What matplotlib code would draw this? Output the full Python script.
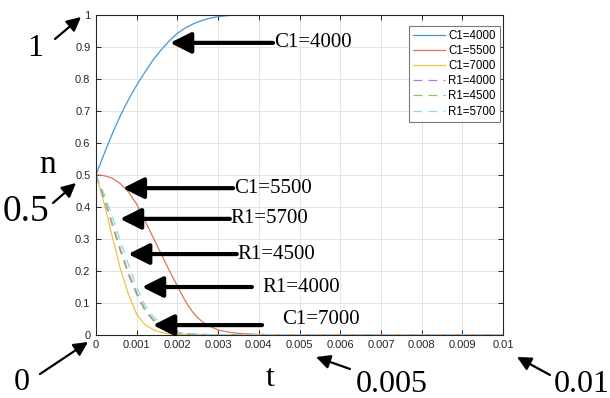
import matplotlib
matplotlib.use("Agg")
import matplotlib.pyplot as plt
import matplotlib.patches as mpatches

# ---------------- data ----------------
t_c4000 = [0, 0.0002, 0.0004, 0.0006, 0.0008, 0.001, 0.0012, 0.0014, 0.0016, 0.0018,
           0.002, 0.0022, 0.0024, 0.0026, 0.0028, 0.003, 0.0033, 0.0036, 0.004, 0.01]
n_c4000 = [0.5, 0.565, 0.628, 0.685, 0.735, 0.78, 0.82, 0.858, 0.89, 0.918,
           0.942, 0.959, 0.972, 0.982, 0.989, 0.994, 0.998, 1.0, 1.0, 1.0]

t_c5500 = [0, 0.0002, 0.0004, 0.0006, 0.0008, 0.001, 0.0012, 0.0014, 0.0016, 0.0018,
           0.002, 0.0021, 0.0022, 0.0023, 0.0024, 0.0025, 0.0026, 0.0027, 0.0028,
           0.003, 0.0033, 0.0036, 0.004, 0.0045, 0.01]
n_c5500 = [0.5, 0.497, 0.489, 0.472, 0.446, 0.408, 0.357, 0.305, 0.253, 0.201,
           0.152, 0.127, 0.104, 0.084, 0.067, 0.053, 0.042, 0.033, 0.026,
           0.015, 0.007, 0.003, 0.001, 0.0, 0.0]

t_c7000 = [0, 0.0001, 0.0002, 0.0004, 0.0006, 0.0008, 0.001, 0.0012, 0.0014, 0.0016,
           0.0018, 0.002, 0.0025, 0.01]
n_c7000 = [0.5, 0.455, 0.41, 0.307, 0.206, 0.125, 0.064, 0.032, 0.016, 0.007,
           0.003, 0.001, 0.0, 0.0]

t_r = [0, 0.0002, 0.0004, 0.0006, 0.0008, 0.001, 0.0012, 0.0014, 0.0016, 0.0018,
       0.002, 0.0025, 0.003, 0.01]
n_r4000 = [0.5, 0.423, 0.342, 0.261, 0.186, 0.126, 0.076, 0.045, 0.025, 0.012,
           0.005, 0.001, 0.0, 0.0]
n_r4500 = [0.5, 0.43, 0.35, 0.27, 0.195, 0.133, 0.082, 0.049, 0.028, 0.014,
           0.006, 0.001, 0.0, 0.0]
n_r5700 = [0.5, 0.44, 0.371, 0.293, 0.219, 0.149, 0.094, 0.058, 0.033, 0.017,
           0.007, 0.001, 0.0, 0.0]

x_ticks = [0, 0.001, 0.002, 0.003, 0.004, 0.005, 0.006, 0.007, 0.008, 0.009, 0.01]
x_tick_labels = ["0", "0.001", "0.002", "0.003", "0.004", "0.005", "0.006",
                 "0.007", "0.008", "0.009", "0.01"]
y_ticks = [0, 0.1, 0.2, 0.3, 0.4, 0.5, 0.6, 0.7, 0.8, 0.9, 1.0]
y_tick_labels = ["0", "0.1", "0.2", "0.3", "0.4", "0.5", "0.6", "0.7", "0.8", "0.9", "1"]

# ---------------- figure ----------------
W, H = 610, 398
fig = plt.figure(figsize=(W / 100, H / 100), dpi=100)
ax_l, ax_r, ax_t, ax_b = 96, 503, 14.7, 334.7
ax = fig.add_axes([ax_l / W, 1 - ax_b / H, (ax_r - ax_l) / W, (ax_b - ax_t) / H])

col_blue = "#4498d6"
col_orange = "#dc7650"
col_yellow = "#efc04a"
col_purple = "#b47ec6"
col_green = "#92c05a"
col_cyan = "#8fd6ef"

lw = 0.9
dash = (0, (7, 5))
ax.plot(t_c4000, n_c4000, color=col_blue, lw=lw, label="C1=4000")
ax.plot(t_c5500, n_c5500, color=col_orange, lw=lw, label="C1=5500")
ax.plot(t_c7000, n_c7000, color=col_yellow, lw=lw, label="C1=7000")
ax.plot(t_r, n_r4000, color=col_purple, lw=lw, ls=dash, label="R1=4000")
ax.plot(t_r, n_r4500, color=col_green, lw=lw, ls=dash, label="R1=4500")
ax.plot(t_r, n_r5700, color=col_cyan, lw=lw, ls=dash, label="R1=5700")

ax.set_xlim(0, 0.01)
ax.set_ylim(0, 1)
ax.set_xticks(x_ticks)
ax.set_xticklabels(x_tick_labels)
ax.set_yticks(y_ticks)
ax.set_yticklabels(y_tick_labels)
ax.grid(True, color="#e4e4e4", lw=0.7)
ax.set_axisbelow(True)
ax.tick_params(direction="in", length=3.5, width=0.7, colors="#262626",
               labelsize=8, top=True, right=True, pad=4)
for lab in ax.get_xticklabels() + ax.get_yticklabels():
    lab.set_fontfamily("Liberation Sans")
for sp in ax.spines.values():
    sp.set_color("#262626")
    sp.set_linewidth(0.8)

leg = ax.legend(loc="upper right", bbox_to_anchor=(0.9926, 0.9647),
                borderaxespad=0, fancybox=False, framealpha=1,
                edgecolor="#7a7a7a", prop={"family": "Liberation Sans", "size": 8.3},
                handlelength=2.8, handletextpad=0.3, labelspacing=0.27,
                borderpad=0.35)
leg.get_frame().set_linewidth(0.8)

# ---------------- annotations ----------------
serif = "Liberation Serif"
arrow = dict(arrowstyle="-|>,head_length=0.9,head_width=0.45", lw=3, color="black",
             shrinkA=0, shrinkB=0, mutation_scale=14)
ann = [
    ("C1=4000", 0.00182, 0.912, 0.00435, 0.912),
    ("C1=5500", 0.00066, 0.458, 0.00337, 0.458),
    ("R1=5700", 0.00059, 0.362, 0.00329, 0.362),
    ("R1=4500", 0.00079, 0.252, 0.00346, 0.252),
    ("R1=4000", 0.00113, 0.149, 0.00383, 0.149),
    ("C1=7000", 0.00140, 0.030, 0.00408, 0.030),
]
text_offsets = {"R1=4000": 0.00027, "C1=7000": 0.00050}
for label, tx, ty, sx, sy in ann:
    ax.annotate("", xy=(tx, ty), xytext=(sx, sy), arrowprops=arrow,
                annotation_clip=False)
    dx = text_offsets.get(label, 0.00002)
    dy = 0.016 if label == "C1=7000" else 0.0
    ax.text(sx + dx, sy + dy, label, fontsize=15, family=serif,
            ha="left", va="center")

# outside labels (figure pixel coordinates)
def fx(px):
    return px / W

def fy(py):
    return 1 - py / H

arrow2 = dict(arrowstyle="-|>,head_length=0.7,head_width=0.35", lw=1.6,
              color="black", shrinkA=0, shrinkB=0, mutation_scale=12)
outside = [
    ("1", 35, 49, 23, 55, 39, 81, 17),
    ("0.5", 26, 212, 27, 53, 203, 76, 183),
    ("0", 22, 382, 23, 40, 374, 88, 342),
    ("0.005", 392, 384, 23, 350, 369, 316, 357),
    ("0.01", 582, 384, 23, 550, 375, 517, 357),
]
for label, lx, ly, fs, ax0, ay0, ax1, ay1 in outside:
    fig.text(fx(lx), fy(ly), label, fontsize=fs, family=serif, ha="center", va="center")
    fig.patches.append(mpatches.FancyArrowPatch(
        (fx(ax0), fy(ay0)), (fx(ax1), fy(ay1)), transform=fig.transFigure,
        **arrow2))
fig.text(fx(48), fy(165), "n", fontsize=24, family=serif, ha="center", va="center")
fig.text(fx(270), fy(378), "t", fontsize=23, family=serif, ha="center", va="center")

fig.savefig("out.png", dpi=100)
